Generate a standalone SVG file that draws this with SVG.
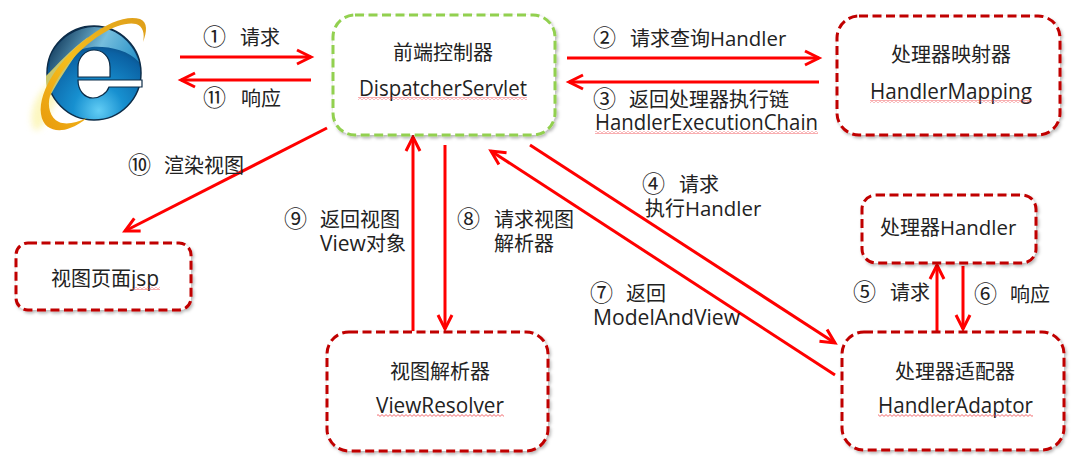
<svg xmlns="http://www.w3.org/2000/svg" width="1081" height="468" viewBox="0 0 1081 468">
<style>
text{font-family:"Open Sans","Noto Sans CJK SC","Liberation Sans",sans-serif;font-size:20px;fill:#222}
.c{text-anchor:middle}
.l{font-size:21px}
.m{font-size:20.4px}
.n{font-size:23px}
.box{fill:#fff;stroke:#C00000;stroke-width:3;stroke-dasharray:9 4.5;filter:url(#sh)}
.green{stroke:#92D050}
.a{fill:none;stroke:#FF0000;stroke-width:3;marker-end:url(#arr)}
.sq{fill:url(#squig)}
</style>
<defs>
<filter id="sh" x="-5%" y="-5%" width="112%" height="115%"><feDropShadow dx="1.5" dy="2" stdDeviation="1.5" flood-color="#000" flood-opacity="0.28"/></filter>
<marker id="arr" markerUnits="userSpaceOnUse" markerWidth="20" markerHeight="20" refX="15" refY="10" orient="auto"><path d="M1 3 L15 10 L1 17" fill="none" stroke="#FF0000" stroke-width="3"/></marker>
<pattern id="squig" patternUnits="userSpaceOnUse" width="4" height="3"><path d="M0 2.4 L2 0.6 L4 2.4" fill="none" stroke="#F0484C" stroke-width="0.8"/></pattern>
<radialGradient id="globe" cx="0.55" cy="0.9" r="0.9"><stop offset="0" stop-color="#62CDF5"/><stop offset="0.3" stop-color="#1790D0"/><stop offset="0.7" stop-color="#0B62A4"/><stop offset="1" stop-color="#0A2A4A"/></radialGradient>
<linearGradient id="sheen" x1="0" y1="0.3" x2="1" y2="0.6"><stop offset="0" stop-color="#0E3557"/><stop offset="0.55" stop-color="#76BEDD"/><stop offset="1" stop-color="#2A93C9"/></linearGradient>
<linearGradient id="ring" x1="0" y1="1" x2="1" y2="0"><stop offset="0" stop-color="#E89A0C"/><stop offset="0.45" stop-color="#F5BE1E"/><stop offset="1" stop-color="#DE9E1A"/></linearGradient>
<filter id="blur" x="-30%" y="-30%" width="160%" height="160%"><feGaussianBlur stdDeviation="3"/></filter>
</defs>

<g id="ie-logo">
<path d="M44 88 C30 104 28 124 36 131 C46 128 56 100 72 70 Z" fill="#FBF3A0" opacity="0.65" filter="url(#blur)"/>
<circle cx="94" cy="73" r="47" fill="url(#globe)" stroke="#0C2C48" stroke-width="1.5"/>
<path d="M50 58 C58 38 78 27 94 27 C114 27 132 40 139 62 C128 50 108 46 92 47 C74 49 60 60 50 74 Z" fill="url(#sheen)"/>
<path d="M46 76 C58 64 70 50 88 37 C76 55 62 74 50 96 C46 90 46 82 46 76 Z" fill="#C9C66A"/>
<path d="M78 77 L110 77 L110 67 C110 56 102 50 94 50 C85 50 78 58 78 67 Z" fill="#fff" stroke="#0C2C48" stroke-width="1.2"/>
<path d="M78 80 L142 80 L142 87 L109 87 C107 93 100 98 93 98 C84 98 78 90 78 80 Z" fill="#fff" stroke="#0C2C48" stroke-width="1.2"/>
<path d="M143 42 C147 32 148 22 140 19 C128 15 108 22 90 36 C62 56 38 90 41 114 C43 130 58 133 70 128 C76 126 82 122 87 118 C76 123 66 125 59 122 C50 118 47 106 50 96 C56 76 76 50 102 34 C114 26 128 22 136 24 C143 26 145 34 143 42 Z" fill="url(#ring)"/>
</g>

<g id="connectors">
<line class="a" x1="180" y1="57" x2="311" y2="57"/>
<line class="a" x1="311" y1="80" x2="181" y2="80"/>
<line class="a" x1="567" y1="58" x2="819" y2="58"/>
<line class="a" x1="819" y1="82" x2="569" y2="82"/>
<line class="a" x1="327" y1="128" x2="125" y2="231"/>
<line class="a" x1="413" y1="331" x2="413" y2="137"/>
<line class="a" x1="445" y1="145" x2="445" y2="329"/>
<line class="a" x1="835" y1="375" x2="491" y2="151"/>
<line class="a" x1="530" y1="145" x2="835" y2="343"/>
<line class="a" x1="937" y1="331" x2="937" y2="265"/>
<line class="a" x1="963" y1="266" x2="963" y2="329"/>
</g>

<g id="node-dispatcher">
<rect class="box green" x="333" y="15" width="222" height="120" rx="22"/>
<text class="c" x="443" y="60">前端控制器</text>
<text class="l" x="359" y="96" textLength="168" lengthAdjust="spacingAndGlyphs">DispatcherServlet</text>
<rect class="sq" x="358" y="97" width="169" height="3"/>
</g>
<g id="node-mapping">
<rect class="box" x="837" y="16" width="223" height="119" rx="22"/>
<text class="c" x="951" y="62">处理器映射器</text>
<text class="l" x="870" y="99" textLength="162" lengthAdjust="spacingAndGlyphs">HandlerMapping</text>
<rect class="sq" x="870" y="100" width="162" height="3"/>
</g>
<g id="node-jsp">
<rect class="box" x="16" y="243" width="175" height="67" rx="12"/>
<text x="51" y="286">视图页面<tspan class="l">jsp</tspan></text>
<rect class="sq" x="132" y="287" width="28" height="3"/>
</g>
<g id="node-handler">
<rect class="box" x="862" y="195" width="174" height="68" rx="14"/>
<text x="880" y="235">处理器<tspan class="m">Handler</tspan></text>
</g>
<g id="node-adaptor">
<rect class="box" x="842" y="332" width="222" height="118" rx="22"/>
<text class="c" x="955" y="379">处理器适配器</text>
<text class="l" x="878" y="413" textLength="155" lengthAdjust="spacingAndGlyphs">HandlerAdaptor</text>
<rect class="sq" x="878" y="414" width="155" height="3"/>
</g>
<g id="node-resolver">
<rect class="box" x="327" y="332" width="221" height="119" rx="22"/>
<text class="c" x="440" y="379">视图解析器</text>
<text class="l" x="376" y="413" textLength="128" lengthAdjust="spacingAndGlyphs">ViewResolver</text>
<rect class="sq" x="377" y="414" width="127" height="3"/>
</g>

<g id="labels">
<text x="203" y="45"><tspan class="n">①</tspan><tspan x="240">请求</tspan></text>
<text x="203" y="106"><tspan class="n">⑪</tspan><tspan x="241">响应</tspan></text>
<text x="593" y="46"><tspan class="n">②</tspan><tspan x="630">请求查询<tspan class="m">Handler</tspan></tspan></text>
<text x="593" y="107"><tspan class="n">③</tspan><tspan x="629">返回处理器执行链</tspan></text>
<text class="l" x="595" y="130" textLength="223" lengthAdjust="spacingAndGlyphs">HandlerExecutionChain</text>
<rect class="sq" x="595" y="131" width="223" height="3"/>
<text x="128" y="173"><tspan class="n">⑩</tspan><tspan x="164">渲染视图</tspan></text>
<text x="284" y="227"><tspan class="n">⑨</tspan><tspan x="320">返回视图</tspan></text>
<text x="320" y="251"><tspan class="l">View</tspan>对象</text>
<text x="457" y="227"><tspan class="n">⑧</tspan><tspan x="494">请求视图</tspan></text>
<text x="494" y="251">解析器</text>
<text x="642" y="192"><tspan class="n">④</tspan><tspan x="679">请求</tspan></text>
<text x="645" y="216">执行<tspan class="m">Handler</tspan></text>
<text x="590" y="301"><tspan class="n">⑦</tspan><tspan x="626">返回</tspan></text>
<text class="l" x="593" y="325" textLength="147" lengthAdjust="spacingAndGlyphs">ModelAndView</text>
<text x="853" y="300"><tspan class="n">⑤</tspan><tspan x="890">请求</tspan></text>
<text x="974" y="302"><tspan class="n">⑥</tspan><tspan x="1010">响应</tspan></text>
</g>
</svg>
